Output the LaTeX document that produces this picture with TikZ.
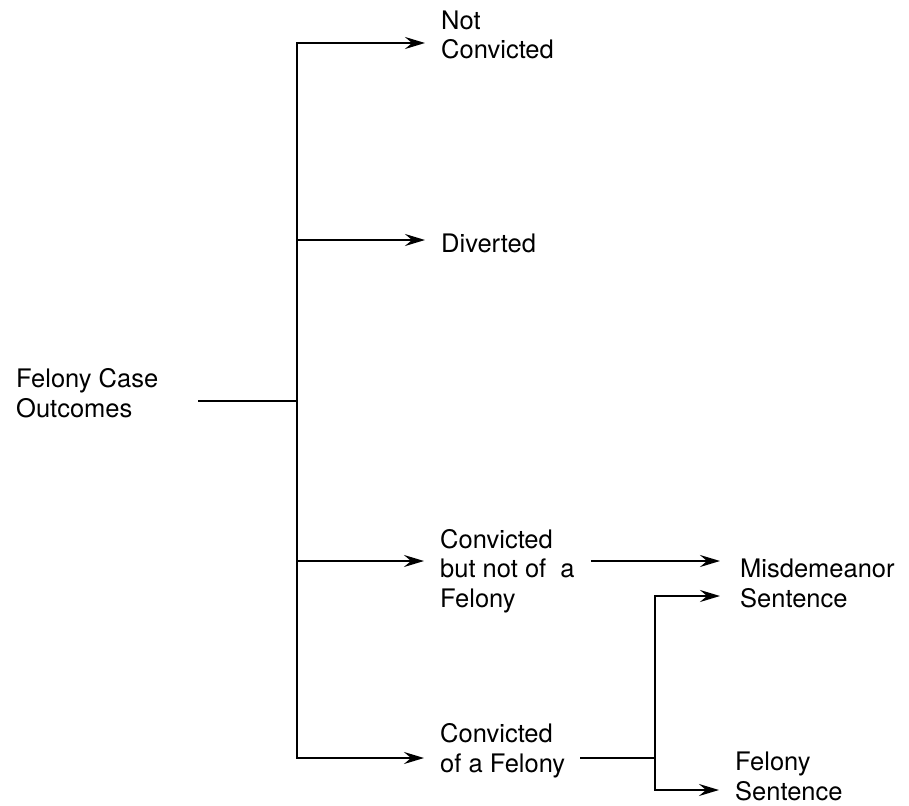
\documentclass[tikz,border=0pt]{standalone}
\usepackage{fontspec}
\setmainfont{TeX Gyre Heros}
\usetikzlibrary{arrows.meta}
\begin{document}
\begin{tikzpicture}[x=1pt,y=-1pt,
  % base anchor of a multi-line label sits on its last line
  lbl/.style={anchor=base west, align=left, inner ysep=0pt, inner xsep=16pt,
              font=\fontsize{25.5}{29.5}\selectfont},
  link/.style={line width=2.3pt, line cap=rect},
  arr/.style={line width=2.3pt, -{Stealth[length=20pt,width=12pt,inset=7pt]}}]
\useasboundingbox (0,0) rectangle (909,805);

% outcome labels
\node[lbl, inner xsep=0pt] (fco) at (16,417) {Felony Case\\Outcomes};
\node[lbl] (nc)  at (425,59)  {Not\\Convicted};
\node[lbl] (dv)  at (425,252) {Diverted};
\node[lbl] (cbn) at (424,607) {Convicted\\but not of\ \ a\\Felony};
\node[lbl] (cf)  at (424,772) {Convicted\\of a Felony};
\node[lbl, inner xsep=20pt] (ms) at (720,607) {Misdemeanor\\Sentence};
\node[lbl] (fs)  at (719,800) {Felony\\Sentence};

% junction points of the tree
\coordinate (stem)  at (199,401);
\coordinate (trunk) at (297,401);
\coordinate (tTop)  at (297,43);
\coordinate (tDv)   at (297,240);
\coordinate (tCbn)  at (297,561);
\coordinate (tBot)  at (297,758);
\coordinate (fork)  at (655,758);
\coordinate (fTop)  at (655,596);
\coordinate (fBot)  at (655,790);

% main trunk
\draw[link] (stem) -- (trunk);
\draw[link] (tTop) -- (tBot);
\draw[arr] (tTop) -- (nc.west |- tTop);
\draw[arr] (tDv)  -- (dv.west |- tDv);
\draw[arr] (tCbn) -- (cbn.west |- tCbn);
\draw[arr] (tBot) -- (cf.west |- tBot);

% sentencing branches
\draw[arr] (cbn.east |- tCbn) -- (ms.west |- tCbn);
\draw[link] (cf.east |- tBot) -- (fork);
\draw[link] (fTop) -- (fBot);
\draw[arr] (fTop) -- (ms.west |- fTop);
\draw[arr] (fBot) -- (fs.west |- fBot);
\end{tikzpicture}
\end{document}
